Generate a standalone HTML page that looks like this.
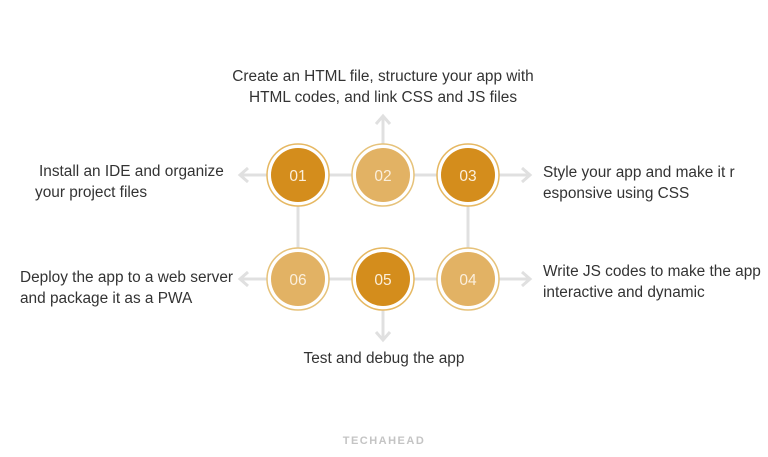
<!DOCTYPE html>
<html><head><meta charset="utf-8"><style>
html,body{margin:0;padding:0;background:#fff;}
svg{display:block}
text{font-family:"Liberation Sans",sans-serif;}
</style></head><body>
<svg width="768" height="457" viewBox="0 0 768 457" xmlns="http://www.w3.org/2000/svg">
<g stroke="#e0e0e0" stroke-width="3" fill="none">
<line x1="298" y1="175" x2="468" y2="175"/>
<line x1="298" y1="279" x2="468" y2="279"/>
<line x1="298" y1="175" x2="298" y2="279"/>
<line x1="468" y1="175" x2="468" y2="279"/>
<line x1="298" y1="175" x2="240" y2="175"/>
<polyline points="248,168 240,175 248,182"/>
<line x1="298" y1="279" x2="240" y2="279"/>
<polyline points="248,272 240,279 248,286"/>
<line x1="468" y1="175" x2="530" y2="175"/>
<polyline points="522,168 530,175 522,182"/>
<line x1="468" y1="279" x2="530" y2="279"/>
<polyline points="522,272 530,279 522,286"/>
<line x1="383" y1="175" x2="383" y2="116"/>
<polyline points="376,124 383,116 390,124"/>
<line x1="383" y1="279" x2="383" y2="340"/>
<polyline points="376,332 383,340 390,332"/>
</g>
<g>
<circle cx="298" cy="175" r="31" fill="#fff" stroke="#e6b862" stroke-width="1.5"/><circle cx="298" cy="175" r="27" fill="#d48d1c"/>
<circle cx="383" cy="175" r="31" fill="#fff" stroke="#e6c27a" stroke-width="1.5"/><circle cx="383" cy="175" r="27" fill="#e2b264"/>
<circle cx="468" cy="175" r="31" fill="#fff" stroke="#e6b862" stroke-width="1.5"/><circle cx="468" cy="175" r="27" fill="#d48d1c"/>
<circle cx="298" cy="279" r="31" fill="#fff" stroke="#e6c27a" stroke-width="1.5"/><circle cx="298" cy="279" r="27" fill="#e2b264"/>
<circle cx="383" cy="279" r="31" fill="#fff" stroke="#e6b862" stroke-width="1.5"/><circle cx="383" cy="279" r="27" fill="#d48d1c"/>
<circle cx="468" cy="279" r="31" fill="#fff" stroke="#e6c27a" stroke-width="1.5"/><circle cx="468" cy="279" r="27" fill="#e2b264"/>
</g>
<g fill="#fbefdc" font-size="15.5" text-anchor="middle">
<text x="298" y="181">01</text><text x="383" y="181">02</text><text x="468" y="181">03</text>
<text x="298" y="285">06</text><text x="383" y="285">05</text><text x="468" y="285">04</text>
</g>
<g fill="#333" font-size="15.4">
<text x="383" y="81" text-anchor="middle">Create an HTML file, structure your app with</text>
<text x="383" y="102" text-anchor="middle">HTML codes, and link CSS and JS files</text>
<text x="39" y="176">Install an IDE and organize</text>
<text x="35" y="197">your project files</text>
<text x="543" y="177">Style your app and make it r</text>
<text x="543" y="198">esponsive using CSS</text>
<text x="20" y="282">Deploy the app to a web server</text>
<text x="20" y="303">and package it as a PWA</text>
<text x="543" y="276">Write JS codes to make the app</text>
<text x="543" y="297">interactive and dynamic</text>
<text x="384" y="363" text-anchor="middle">Test and debug the app</text>
</g>
<text x="384" y="444" text-anchor="middle" font-size="11" font-weight="bold" fill="#c4c4c4" letter-spacing="1.5">TECHAHEAD</text>
</svg>
</body></html>
